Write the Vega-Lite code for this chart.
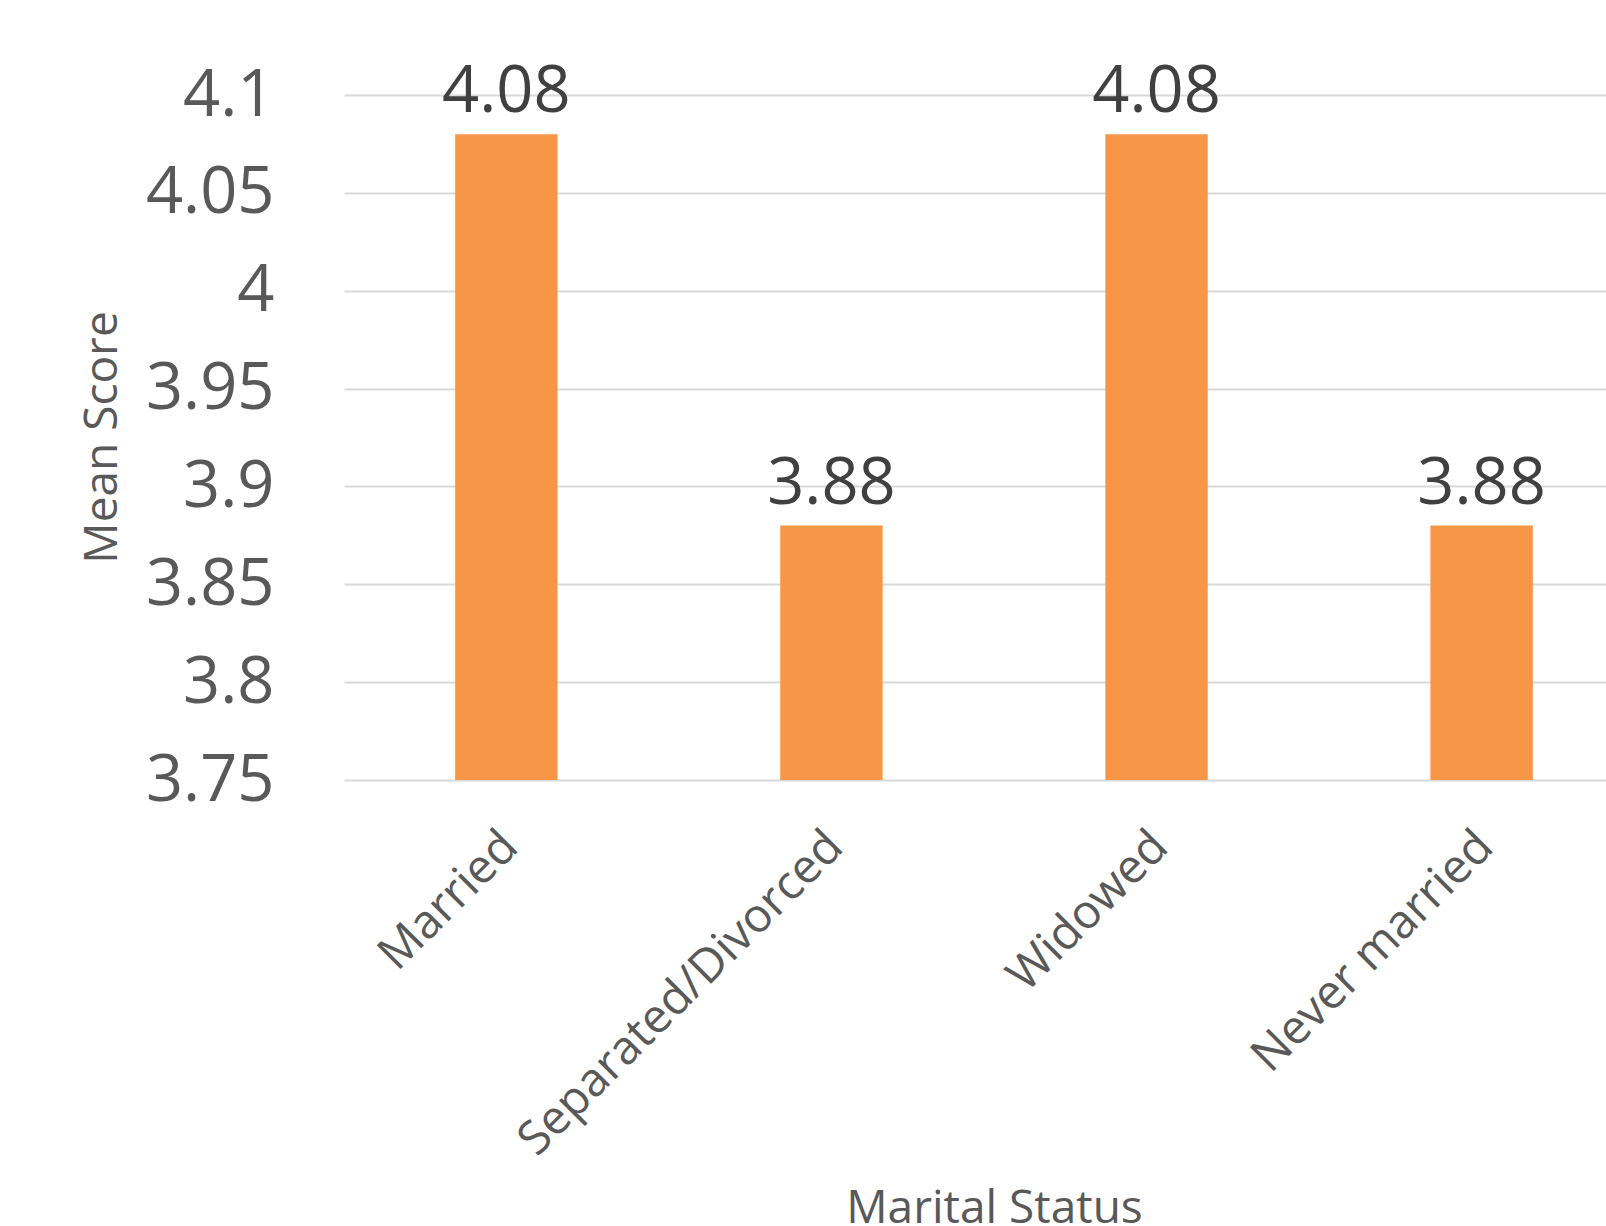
{
  "$schema": "https://vega.github.io/schema/vega-lite/v6.json",
  "autosize": {"type": "none"},
  "padding": {"left": 344, "top": 95, "right": 0, "bottom": 446},
  "width": 1300,
  "height": 685,
  "background": "white",
  "config": {
    "view": {"stroke": null},
    "font": "Open Sans"
  },
  "data": {
    "values": [
      {"status": "Married", "score": 4.08},
      {"status": "Separated/Divorced", "score": 3.88},
      {"status": "Widowed", "score": 4.08},
      {"status": "Never married", "score": 3.88}
    ]
  },
  "encoding": {
    "x": {
      "field": "status",
      "type": "nominal",
      "sort": null,
      "scale": {"paddingInner": 0.685, "paddingOuter": 0.342},
      "axis": {
        "title": "Marital Status",
        "titleFont": "Open Sans",
        "titleFontSize": 46,
        "titleFontWeight": "normal",
        "titleColor": "#595959",
        "titleX": 650,
        "titleY": 428,
        "titleAlign": "center",
        "titleBaseline": "middle",
        "labelAngle": -45,
        "labelAlign": "right",
        "labelBaseline": "middle",
        "labelFontSize": 47,
        "labelColor": "#595959",
        "labelPadding": 59,
        "labelOffset": 4,
        "labelLimit": 600,
        "ticks": false,
        "domain": false,
        "grid": false
      }
    },
    "y": {
      "field": "score",
      "type": "quantitative",
      "scale": {"domain": [3.75, 4.1], "zero": false, "nice": false},
      "axis": {
        "title": "Mean Score",
        "titleFontSize": 46,
        "titleFontWeight": "normal",
        "titleColor": "#595959",
        "titleAngle": -90,
        "titleX": -242,
        "titleY": 342,
        "titleAlign": "center",
        "titleBaseline": "middle",
        "values": [3.75, 3.8, 3.85, 3.9, 3.95, 4, 4.05, 4.1],
        "format": ".2~f",
        "labelFontSize": 65,
        "labelColor": "#595959",
        "labelPadding": 70,
        "ticks": false,
        "domain": false,
        "grid": true,
        "gridColor": "#d9d9d9",
        "gridWidth": 2
      }
    }
  },
  "layer": [
    {"mark": {"type": "bar", "color": "#F79646", "clip": true}},
    {
      "mark": {"type": "text", "baseline": "alphabetic", "dy": -22, "fontSize": 65, "color": "#404040"},
      "encoding": {"text": {"field": "score", "type": "quantitative", "format": ".2f"}}
    }
  ]
}
